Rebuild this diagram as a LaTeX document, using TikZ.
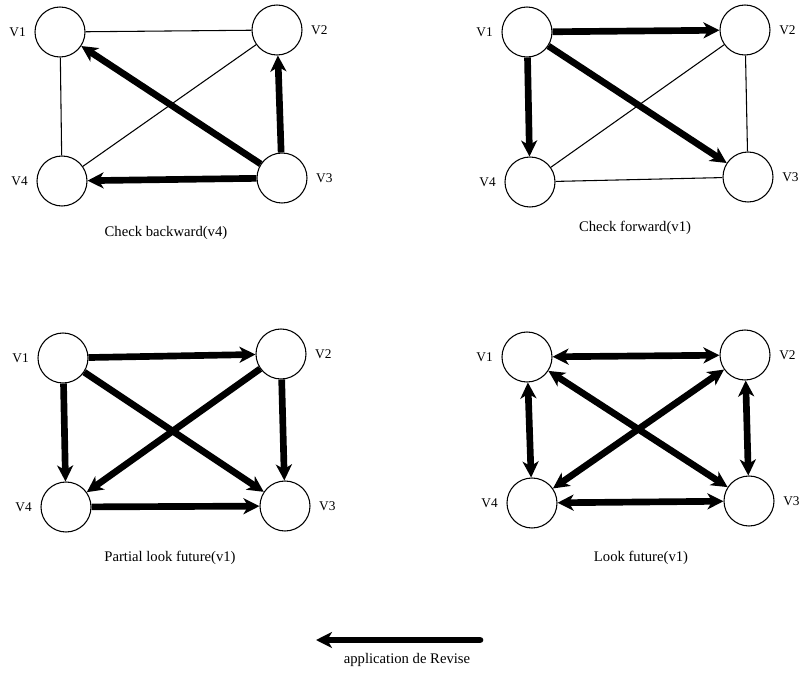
\documentclass[tikz,border=0pt]{standalone}
\usepackage{fontspec}
\setmainfont{Liberation Serif}
\usetikzlibrary{arrows.meta}
\tikzset{vtx/.style = {draw, circle, line width = 0.8pt, inner sep = 0, minimum size = 37.5pt}}
\tikzset{vlab/.style = {font = \fontsize{10}{12}\selectfont, label distance = 3pt}}
\tikzset{captxt/.style = {font = \fontsize{11}{13}\selectfont}}
\tikzset{tline/.style = {line width = 0.8pt}}
\tikzset{arr/.style = {line width = 5pt, -{Stealth[length = 12pt, width = 12pt, inset = 3.5pt]}}}
\tikzset{darr/.style = {line width = 5pt, {Stealth[length = 12pt, width = 12pt, inset = 3.5pt]}-{Stealth[length = 12pt, width = 12pt, inset = 3.5pt]}}}

\begin{document}
\begin{tikzpicture}[x = 0.75pt, y = -0.75pt]
    \useasboundingbox (0, 0) rectangle (799, 677);

    % check backward
    \node [vtx, label = {[vlab]left:V1}] (a1) at (60, 32) {};
    \node [vtx, label = {[vlab]right:V2}] (a2) at (277, 30) {};
    \node [vtx, label = {[vlab]right:V3}] (a3) at (282, 178) {};
    \node [vtx, label = {[vlab]left:V4}] (a4) at (62, 181) {};
    \draw [tline] (a1) -- (a2);
    \draw [tline] (a1) -- (a4);
    \draw [tline] (a2) -- (a4);
    \draw [arr] (a3) -- (a1);
    \draw [arr] (a3) -- (a2);
    \draw [arr] (a3) -- (a4);
    \node [captxt] (capa) at (166, 233) {Check backward(v4)};

    % check forward
    \node [vtx, label = {[vlab]left:V1}] (b1) at (527, 32) {};
    \node [vtx, label = {[vlab]right:V2}] (b2) at (745, 30) {};
    \node [vtx, label = {[vlab]right:V3}] (b3) at (748, 177) {};
    \node [vtx, label = {[vlab]left:V4}] (b4) at (530, 182) {};
    \draw [tline] (b2) -- (b4);
    \draw [tline] (b2) -- (b3);
    \draw [tline] (b4) -- (b3);
    \draw [arr] (b1) -- (b2);
    \draw [arr] (b1) -- (b4);
    \draw [arr] (b1) -- (b3);
    \node [captxt] (capb) at (635, 228) {Check forward(v1)};

    % partial look future
    \node [vtx, label = {[vlab]left:V1}] (c1) at (63, 358) {};
    \node [vtx, label = {[vlab]right:V2}] (c2) at (281, 354) {};
    \node [vtx, label = {[vlab]right:V3}] (c3) at (285, 506) {};
    \node [vtx, label = {[vlab]left:V4}] (c4) at (66, 507) {};
    \draw [arr] (c1) -- (c2);
    \draw [arr] (c1) -- (c4);
    \draw [arr] (c1) -- (c3);
    \draw [arr] (c2) -- (c4);
    \draw [arr] (c2) -- (c3);
    \draw [arr] (c4) -- (c3);
    \node [captxt] (capc) at (170, 558) {Partial look future(v1)};

    % look future
    \node [vtx, label = {[vlab]left:V1}] (d1) at (527, 357) {};
    \node [vtx, label = {[vlab]right:V2}] (d2) at (745, 355) {};
    \node [vtx, label = {[vlab]right:V3}] (d3) at (749, 501) {};
    \node [vtx, label = {[vlab]left:V4}] (d4) at (532, 503) {};
    \draw [darr] (d1) -- (d2);
    \draw [darr] (d1) -- (d4);
    \draw [darr] (d1) -- (d3);
    \draw [darr] (d2) -- (d4);
    \draw [darr] (d2) -- (d3);
    \draw [darr] (d4) -- (d3);
    \node [captxt] (capd) at (641, 558) {Look future(v1)};

    % legend
    \coordinate (r0) at (480, 640);
    \coordinate (r1) at (316, 640);
    \draw [arr, line cap = round] (r0) -- (r1);
    \node [captxt] (capr) at (407, 660) {application de Revise};
  \end{tikzpicture}
\end{document}
